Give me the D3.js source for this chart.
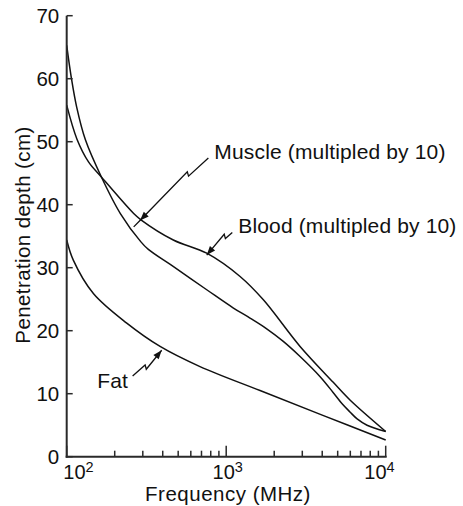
<!DOCTYPE html>
<html>
<head>
<meta charset="utf-8">
<script src="https://cdn.jsdelivr.net/npm/d3@7"></script>
<style>
  html, body { margin: 0; padding: 0; background: #fff; }
  svg text { font-family: "Liberation Sans", Arial, Helvetica, sans-serif; fill: #111; }
</style>
</head>
<body>
<svg id="chart" width="463" height="506"></svg>
<script>
// ---- data (frequency in MHz, penetration depth in cm) ----
const muscleFreq  = [100, 107, 115.5, 131, 165, 217, 292, 325, 465, 755, 1110, 1410, 1795, 2280, 2905, 3880, 4680, 5330, 5970, 6620, 7640, 10000];
const muscleDepth = [65.3, 60.1, 55.5, 50.3, 44.4, 38.6, 34.1, 32.9, 30.2, 26.5, 23.6, 22.0, 20.3, 18.3, 15.9, 12.7, 10.2, 8.4, 7.1, 6.0, 5.0, 4.0];

const bloodFreq  = [100, 116, 137, 165, 263, 292, 466, 755, 1222, 1710, 2905, 4690, 5970, 10000];
const bloodDepth = [55.8, 50.4, 46.8, 44.4, 38.6, 37.6, 34.4, 32.3, 28.6, 24.9, 17.5, 11.8, 9.0, 4.0];

const fatFreq  = [100, 110, 147, 238, 385, 685, 1630, 4000, 10000];
const fatDepth = [34.4, 31.2, 25.9, 21.2, 17.5, 14.3, 10.5, 6.6, 2.65];

const yTicks = [0, 10, 20, 30, 40, 50, 60, 70];
const xMajor = [100, 1000, 10000];
const xMajorExp = ["2", "3", "4"];
const xMinor = [200,300,400,500,600,700,800,900,2000,3000,4000,5000,6000,7000,8000,9000];

// annotations: label, arrow start (freq, depth), arrow tip (freq, depth)
const annLabels = ["Muscle (multipled by 10)", "Blood (multipled by 10)", "Fat"];
const annStart  = [[773, 47.4], [1092, 35.6], [259, 12.8]];
const annTip    = [[288, 37.5], [755, 32.0], [394, 16.9]];

const xTitle = "Frequency (MHz)";
const yTitle = "Penetration depth (cm)";

// ---- layout ----
const svg = d3.select("#chart");
const x = d3.scaleLog().domain([100, 10000]).range([66.7, 385.7]);
const y = d3.scaleLinear().domain([0, 70]).range([456.7, 15.7]);

const ink = "#111";

// curves
const line = d3.line().x(d => x(d[0])).y(d => y(d[1])).curve(d3.curveCatmullRom.alpha(0.5));
const series = [
  d3.zip(muscleFreq, muscleDepth),
  d3.zip(bloodFreq, bloodDepth),
  d3.zip(fatFreq, fatDepth)
];
svg.append("g").selectAll("path").data(series).join("path")
  .attr("d", line).attr("fill", "none").attr("stroke", ink).attr("stroke-width", 1.5);

// axes lines
const axisCol = "#2a2a2a";
svg.append("line").attr("x1", x(100)).attr("x2", x(100)).attr("y1", y(70)).attr("y2", y(0) + 1)
  .attr("stroke", axisCol).attr("stroke-width", 2);
svg.append("line").attr("x1", x(100) - 1).attr("x2", x(10000) + 1).attr("y1", y(0)).attr("y2", y(0))
  .attr("stroke", axisCol).attr("stroke-width", 2);

// y ticks (inward)
svg.append("g").selectAll("line").data(yTicks).join("line")
  .attr("x1", x(100)).attr("x2", x(100) + 6)
  .attr("y1", d => y(d)).attr("y2", d => y(d))
  .attr("stroke", axisCol).attr("stroke-width", 1.5);
svg.append("g").selectAll("text").data(yTicks).join("text")
  .attr("x", x(100) - 7.5).attr("y", d => y(d)).attr("dy", "0.35em")
  .attr("text-anchor", "end").attr("font-size", 20.5).text(d => d);

// x ticks (inward)
svg.append("g").selectAll("line").data(xMajor).join("line")
  .attr("x1", d => x(d)).attr("x2", d => x(d))
  .attr("y1", y(0)).attr("y2", y(0) - 11)
  .attr("stroke", axisCol).attr("stroke-width", 1.5);
svg.append("g").selectAll("line").data(xMinor).join("line")
  .attr("x1", d => x(d)).attr("x2", d => x(d))
  .attr("y1", y(0)).attr("y2", y(0) - 6)
  .attr("stroke", axisCol).attr("stroke-width", 1.5);

const labelShift = [-3.4, -13.6, -21.4];
const xl = svg.append("g").selectAll("text").data(xMajor).join("text")
  .attr("x", (d, i) => x(d) + labelShift[i]).attr("y", 479)
  .attr("text-anchor", "start").attr("font-size", 20);
xl.append("tspan").text("10");
xl.append("tspan").attr("font-size", 14.5).attr("dy", -7).text((d, i) => xMajorExp[i]);

// axis titles
svg.append("text").attr("x", 228).attr("y", 500.5)
  .attr("text-anchor", "middle").attr("font-size", 20.5).attr("letter-spacing", 0.5).text(xTitle);
svg.append("text").attr("transform", "translate(30,235) rotate(-90)")
  .attr("text-anchor", "middle").attr("font-size", 20.5).attr("letter-spacing", 0.4).text(yTitle);

// lightning arrows
function lightning(sx, sy, ex, ey, t) {
  const dx = ex - sx, dy = ey - sy, L = Math.hypot(dx, dy);
  const ux = dx / L, uy = dy / L;
  const px = -uy, py = ux;
  const ax = sx + ux * L * t, ay = sy + uy * L * t;
  const bx = ax - ux * 2 + px * 4, by = ay - uy * 2 + py * 4;
  return { path: `M${sx},${sy}L${ax},${ay}L${bx},${by}L${ex},${ey}`, ux: (ex - bx), uy: (ey - by) };
}
function head(ex, ey, vx, vy) {
  const L = Math.hypot(vx, vy), ux = vx / L, uy = vy / L;
  const len = 9, hw = 3.4;
  const bx = ex - ux * len, by = ey - uy * len;
  return `M${ex},${ey}L${bx - uy * hw},${by + ux * hw}L${bx + uy * hw},${by - ux * hw}Z`;
}
const zigT = [0.29, 0.27, 0.43];
const ann = svg.append("g");
annLabels.forEach((lab, i) => {
  const sx = x(annStart[i][0]), sy = y(annStart[i][1]);
  const ex = x(annTip[i][0]), ey = y(annTip[i][1]);
  const lz = lightning(sx, sy, ex, ey, zigT[i]);
  let p = lz.path;
  if (i === 0) { // muscle arrow line continues slightly past its head
    const L = Math.hypot(lz.ux, lz.uy);
    p += `L${ex + lz.ux / L * 9},${ey + lz.uy / L * 9}`;
  }
  ann.append("path").attr("d", p).attr("fill", "none").attr("stroke", ink).attr("stroke-width", 1.3);
  ann.append("path").attr("d", head(ex, ey, lz.ux, lz.uy)).attr("fill", ink);
  const t = ann.append("text").attr("font-size", 21).attr("letter-spacing", 0.15).text(lab);
  if (i === 2) t.attr("x", sx - 4.5).attr("y", sy + 12.3).attr("text-anchor", "end");
  else t.attr("x", sx + 6).attr("y", sy + 1).attr("text-anchor", "start");
});
</script>
</body>
</html>
